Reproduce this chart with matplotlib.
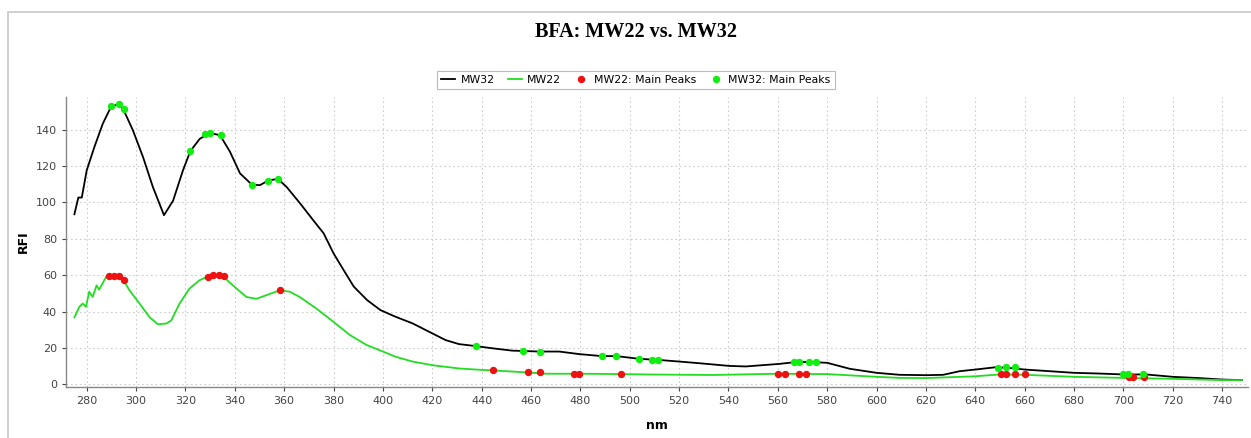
import matplotlib
matplotlib.use("Agg")
import matplotlib.pyplot as plt
from matplotlib.patches import Rectangle

# MW32 (black) spectrum
mw32_nm = [275, 276.6, 278, 280, 283.1, 286.5, 289.9, 293, 294.9, 298.7, 302.8, 306.8,
           311.3, 315, 319, 322, 325.8, 329.9, 334, 338, 342.1, 346.9, 350.2, 353.4,
           357.4, 361, 366.5, 371.9, 376, 380, 384, 388.2, 393.6, 399, 405, 412, 420,
           425.4, 430.8, 437.6, 444.3, 452.4, 456.8, 463.5, 471.4, 479.5, 488.6, 494.6,
           503.8, 511.6, 520, 528, 540.3, 547, 553.8, 560.5, 566.6, 572.7, 580, 589.2,
           600, 609.4, 620, 627, 633.7, 640, 648.5, 655.3, 660, 670, 680, 690.3, 700,
           709.2, 720, 730.8, 740, 748]
mw32_rfi = [93.5, 102.7, 102.7, 117.7, 130.5, 143.3, 152.8, 154, 151, 139.7, 125, 108.5,
            93, 101, 117.7, 128.3, 135, 138.2, 137, 128, 116, 109.8, 109.5, 112,
            113, 108.5, 99.4, 90, 83, 72, 63, 53.7, 46.3, 40.8, 37.2, 33.5, 28,
            24.3, 22.1, 21, 19.8, 18.5, 18.3, 18, 18, 16.6, 15.5, 15.5,
            14, 13.4, 12.5, 11.6, 10.1, 9.8, 10.5, 11.2, 12.1, 12.3, 11.8, 8.5,
            6.3, 5.2, 5.0, 5.2, 7.2, 8.1, 9.4, 8.8, 8.1, 7.2, 6.3, 5.9, 5.4,
            5.4, 4.1, 3.4, 2.6, 2.3]

# MW22 (green) spectrum
mw22_nm = [275, 277, 278.4, 279.7, 281, 282.4, 284, 285, 288, 290.5, 293, 294.9, 297.3,
           301.4, 305.4, 308.8, 312.2, 314.2, 317.6, 321.6, 325.7, 329.1, 332.5, 335.2,
           339.2, 344.7, 348.7, 352.8, 358.2, 362.3, 366.3, 373, 380, 386.7, 393.4,
           400, 405, 412, 420, 430.8, 438.9, 444.7, 458.8, 466, 479.5, 496.6, 506.5,
           533.5, 559.9, 580, 600, 609.4, 620, 640, 649.9, 660, 680, 700, 720, 740, 748]
mw22_rfi = [36.8, 42.6, 44.4, 42.6, 50.9, 48, 54.4, 52, 59.4, 59.8, 59.8, 57.2, 51.7,
            44.4, 37, 33, 33.4, 35, 44.4, 52.6, 57.2, 59.4, 60, 59.4,
            54.4, 48, 47, 49, 51.7, 50.9, 48, 41.7, 34.3, 27, 21.6,
            18, 15.2, 12.5, 10.5, 8.7, 8, 7.6, 6.5, 5.8, 5.8, 5.6, 5.4,
            5.1, 5.8, 5.6, 4.1, 3.5, 3.4, 4.4, 5.4, 5.2, 4.1, 3.5, 3.0, 2.3, 2.3]

# main peaks
mw22_peak_nm = [289, 291, 293, 295, 329, 331.3, 333.7, 335.7, 358.4, 444.7, 458.8, 463.5,
                477.4, 479.5, 496.6, 559.9, 562.8, 568.6, 571.6, 650.5, 652.6, 656, 660,
                702.4, 703.8, 708.5]
mw22_peak_rfi = [59.5, 59.5, 59.5, 57.5, 59, 60.3, 60, 59.5, 51.7, 7.6, 6.5, 6.5,
                 5.8, 5.8, 5.6, 5.8, 5.8, 5.8, 5.8, 5.8, 5.8, 5.4, 5.4,
                 4.1, 4.1, 4.1]
mw32_peak_nm = [289.9, 293, 294.9, 322, 327.8, 330.1, 334.2, 347, 353.3, 357.4, 437.8,
                456.8, 463.5, 488.6, 494.6, 503.8, 509, 511.6, 566.6, 568.4, 572.7,
                575.4, 649.2, 652.6, 655.9, 700, 702, 707.9]
mw32_peak_rfi = [152.8, 154, 151.2, 128.3, 137.9, 138.2, 137, 109.7, 112, 113, 21,
                 18.3, 18, 15.5, 15.5, 14, 13.6, 13.4, 12.1, 12.1, 12.3,
                 12.3, 9.0, 9.4, 9.4, 5.9, 5.9, 5.4]

x_ticks = list(range(280, 741, 20))
y_ticks = list(range(0, 141, 20))

W, H = 1251, 438
fig = plt.figure(figsize=(W / 100, H / 100), dpi=100)
fig.patches.append(Rectangle((8 / W, -0.1), 1.2, 1 - 12 / H + 0.1, transform=fig.transFigure,
                             fill=False, edgecolor="#c8c8c8", linewidth=1.2))

ax = fig.add_axes([66 / W, 1 - 387 / H, (1248 - 66) / W, (387 - 97) / H])

ax.plot(mw32_nm, mw32_rfi, color="black", linewidth=1.3, label="MW32", zorder=3)
ax.plot(mw22_nm, mw22_rfi, color="#22dd22", linewidth=1.3, label="MW22", zorder=3)
ax.plot(mw22_peak_nm, mw22_peak_rfi, "o", color="#ee1111", markersize=4.3,
        label="MW22: Main Peaks", zorder=4)
ax.plot(mw32_peak_nm, mw32_peak_rfi, "o", color="#11ee11", markersize=4.3,
        label="MW32: Main Peaks", zorder=4)

ax.set_xlim(271.6, 750.5)
ax.set_ylim(-1.5, 158)
ax.set_xticks(x_ticks)
ax.set_yticks(y_ticks)
ax.grid(True, color="#cccccc", linestyle=(0, (1.5, 2.5)), linewidth=0.8)
ax.set_axisbelow(True)
for side in ("top", "right"):
    ax.spines[side].set_visible(False)
for side in ("left", "bottom"):
    ax.spines[side].set_color("#888888")
    ax.spines[side].set_linewidth(1.0)
ax.tick_params(labelsize=8, colors="#444444", length=3, width=0.8)
ax.set_xlabel("nm", fontsize=9, fontweight="bold", labelpad=9)
ax.set_ylabel("RFI", fontsize=9, fontweight="bold", labelpad=4)

fig.text(636 / W, 1 - 32 / H, "BFA: MW22 vs. MW32", ha="center", va="center",
         fontsize=14.5, fontweight="bold", family="Liberation Serif")

leg = fig.legend(loc="center", bbox_to_anchor=(636 / W, 1 - 80 / H), ncol=4,
                 fontsize=7.8, handlelength=1.3, handletextpad=0.5, columnspacing=1.2,
                 fancybox=False, edgecolor="#aaaaaa", borderpad=0.4)
leg.get_frame().set_linewidth(0.8)

fig.savefig("out.png", dpi=100)
